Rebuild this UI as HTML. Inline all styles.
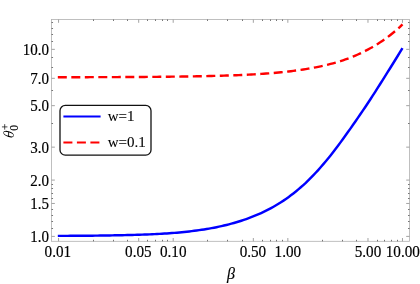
<!DOCTYPE html>
<html><head><meta charset="utf-8"><title>plot</title>
<style>
html,body{margin:0;padding:0;background:#fff;}
body{width:420px;height:284px;overflow:hidden;}
svg{display:block;will-change:transform;}
text{font-family:"Liberation Serif",serif;font-size:16.15px;fill:#000;stroke:#000;stroke-width:0.18px;}
</style></head><body>
<svg width="420" height="284" viewBox="0 0 420 284">
<rect x="0" y="0" width="420" height="284" fill="#fff"/>
<g stroke="#b0b0b0" stroke-width="0.8" fill="none">
<rect x="51.55" y="19.5" width="357.95" height="221.8"/>
</g><g stroke="#999" stroke-width="0.9" fill="none"><line x1="58.56" y1="241.3" x2="58.56" y2="238.0"/><line x1="58.56" y1="19.5" x2="58.56" y2="22.8"/><line x1="138.69" y1="241.3" x2="138.69" y2="238.0"/><line x1="138.69" y1="19.5" x2="138.69" y2="22.8"/><line x1="173.20" y1="241.3" x2="173.20" y2="238.0"/><line x1="173.20" y1="19.5" x2="173.20" y2="22.8"/><line x1="253.33" y1="241.3" x2="253.33" y2="238.0"/><line x1="253.33" y1="19.5" x2="253.33" y2="22.8"/><line x1="287.84" y1="241.3" x2="287.84" y2="238.0"/><line x1="287.84" y1="19.5" x2="287.84" y2="22.8"/><line x1="367.97" y1="241.3" x2="367.97" y2="238.0"/><line x1="367.97" y1="19.5" x2="367.97" y2="22.8"/><line x1="402.48" y1="241.3" x2="402.48" y2="238.0"/><line x1="402.48" y1="19.5" x2="402.48" y2="22.8"/><line x1="51.55" y1="236.40" x2="54.849999999999994" y2="236.40"/><line x1="409.5" y1="236.40" x2="406.2" y2="236.40"/><line x1="51.55" y1="203.46" x2="54.849999999999994" y2="203.46"/><line x1="409.5" y1="203.46" x2="406.2" y2="203.46"/><line x1="51.55" y1="180.09" x2="54.849999999999994" y2="180.09"/><line x1="409.5" y1="180.09" x2="406.2" y2="180.09"/><line x1="51.55" y1="147.15" x2="54.849999999999994" y2="147.15"/><line x1="409.5" y1="147.15" x2="406.2" y2="147.15"/><line x1="51.55" y1="105.66" x2="54.849999999999994" y2="105.66"/><line x1="409.5" y1="105.66" x2="406.2" y2="105.66"/><line x1="51.55" y1="78.32" x2="54.849999999999994" y2="78.32"/><line x1="409.5" y1="78.32" x2="406.2" y2="78.32"/><line x1="51.55" y1="49.35" x2="54.849999999999994" y2="49.35"/><line x1="409.5" y1="49.35" x2="406.2" y2="49.35"/></g><g stroke="#4a4a4a" stroke-width="0.75" fill="none"><line x1="93.50" y1="241.3" x2="93.50" y2="239.8"/><line x1="93.50" y1="19.5" x2="93.50" y2="21.0"/><line x1="113.50" y1="241.3" x2="113.50" y2="239.8"/><line x1="113.50" y1="19.5" x2="113.50" y2="21.0"/><line x1="127.50" y1="241.3" x2="127.50" y2="239.8"/><line x1="127.50" y1="19.5" x2="127.50" y2="21.0"/><line x1="147.50" y1="241.3" x2="147.50" y2="239.8"/><line x1="147.50" y1="19.5" x2="147.50" y2="21.0"/><line x1="155.50" y1="241.3" x2="155.50" y2="239.8"/><line x1="155.50" y1="19.5" x2="155.50" y2="21.0"/><line x1="162.50" y1="241.3" x2="162.50" y2="239.8"/><line x1="162.50" y1="19.5" x2="162.50" y2="21.0"/><line x1="167.50" y1="241.3" x2="167.50" y2="239.8"/><line x1="167.50" y1="19.5" x2="167.50" y2="21.0"/><line x1="207.50" y1="241.3" x2="207.50" y2="239.8"/><line x1="207.50" y1="19.5" x2="207.50" y2="21.0"/><line x1="227.50" y1="241.3" x2="227.50" y2="239.8"/><line x1="227.50" y1="19.5" x2="227.50" y2="21.0"/><line x1="242.50" y1="241.3" x2="242.50" y2="239.8"/><line x1="242.50" y1="19.5" x2="242.50" y2="21.0"/><line x1="262.50" y1="241.3" x2="262.50" y2="239.8"/><line x1="262.50" y1="19.5" x2="262.50" y2="21.0"/><line x1="270.50" y1="241.3" x2="270.50" y2="239.8"/><line x1="270.50" y1="19.5" x2="270.50" y2="21.0"/><line x1="276.50" y1="241.3" x2="276.50" y2="239.8"/><line x1="276.50" y1="19.5" x2="276.50" y2="21.0"/><line x1="282.50" y1="241.3" x2="282.50" y2="239.8"/><line x1="282.50" y1="19.5" x2="282.50" y2="21.0"/><line x1="322.50" y1="241.3" x2="322.50" y2="239.8"/><line x1="322.50" y1="19.5" x2="322.50" y2="21.0"/><line x1="342.50" y1="241.3" x2="342.50" y2="239.8"/><line x1="342.50" y1="19.5" x2="342.50" y2="21.0"/><line x1="356.50" y1="241.3" x2="356.50" y2="239.8"/><line x1="356.50" y1="19.5" x2="356.50" y2="21.0"/><line x1="377.50" y1="241.3" x2="377.50" y2="239.8"/><line x1="377.50" y1="19.5" x2="377.50" y2="21.0"/><line x1="384.50" y1="241.3" x2="384.50" y2="239.8"/><line x1="384.50" y1="19.5" x2="384.50" y2="21.0"/><line x1="391.50" y1="241.3" x2="391.50" y2="239.8"/><line x1="391.50" y1="19.5" x2="391.50" y2="21.0"/><line x1="397.50" y1="241.3" x2="397.50" y2="239.8"/><line x1="397.50" y1="19.5" x2="397.50" y2="21.0"/><line x1="51.55" y1="228.50" x2="53.05" y2="228.50"/><line x1="409.5" y1="228.50" x2="408.0" y2="228.50"/><line x1="51.55" y1="221.50" x2="53.05" y2="221.50"/><line x1="409.5" y1="221.50" x2="408.0" y2="221.50"/><line x1="51.55" y1="215.50" x2="53.05" y2="215.50"/><line x1="409.5" y1="215.50" x2="408.0" y2="215.50"/><line x1="51.55" y1="209.50" x2="53.05" y2="209.50"/><line x1="409.5" y1="209.50" x2="408.0" y2="209.50"/><line x1="51.55" y1="198.50" x2="53.05" y2="198.50"/><line x1="409.5" y1="198.50" x2="408.0" y2="198.50"/><line x1="51.55" y1="193.50" x2="53.05" y2="193.50"/><line x1="409.5" y1="193.50" x2="408.0" y2="193.50"/><line x1="51.55" y1="188.50" x2="53.05" y2="188.50"/><line x1="409.5" y1="188.50" x2="408.0" y2="188.50"/><line x1="51.55" y1="184.50" x2="53.05" y2="184.50"/><line x1="409.5" y1="184.50" x2="408.0" y2="184.50"/><line x1="51.55" y1="123.50" x2="53.05" y2="123.50"/><line x1="409.5" y1="123.50" x2="408.0" y2="123.50"/><line x1="51.55" y1="90.50" x2="53.05" y2="90.50"/><line x1="409.5" y1="90.50" x2="408.0" y2="90.50"/><line x1="51.55" y1="67.50" x2="53.05" y2="67.50"/><line x1="409.5" y1="67.50" x2="408.0" y2="67.50"/><line x1="51.55" y1="57.50" x2="53.05" y2="57.50"/><line x1="409.5" y1="57.50" x2="408.0" y2="57.50"/><line x1="51.55" y1="41.50" x2="53.05" y2="41.50"/><line x1="409.5" y1="41.50" x2="408.0" y2="41.50"/><line x1="51.55" y1="34.50" x2="53.05" y2="34.50"/><line x1="409.5" y1="34.50" x2="408.0" y2="34.50"/><line x1="51.55" y1="28.50" x2="53.05" y2="28.50"/><line x1="409.5" y1="28.50" x2="408.0" y2="28.50"/><line x1="51.55" y1="22.50" x2="53.05" y2="22.50"/><line x1="409.5" y1="22.50" x2="408.0" y2="22.50"/></g>
<path d="M57.81,235.90 L60.29,235.89 L62.77,235.88 L65.25,235.87 L67.73,235.86 L70.21,235.84 L72.69,235.83 L75.17,235.81 L77.65,235.79 L80.13,235.78 L82.61,235.76 L85.09,235.73 L87.57,235.71 L90.05,235.69 L92.53,235.66 L95.01,235.63 L97.49,235.60 L99.97,235.57 L102.45,235.54 L104.93,235.50 L107.41,235.46 L109.89,235.42 L112.37,235.38 L114.85,235.34 L117.33,235.30 L119.80,235.25 L122.28,235.20 L124.76,235.14 L127.24,235.09 L129.72,235.03 L132.20,234.96 L134.68,234.89 L137.16,234.81 L139.64,234.73 L142.12,234.65 L144.60,234.56 L147.08,234.46 L149.56,234.36 L152.04,234.25 L154.52,234.13 L157.00,234.01 L159.48,233.88 L161.96,233.74 L164.44,233.59 L166.92,233.43 L169.40,233.26 L171.88,233.08 L174.36,232.88 L176.84,232.67 L179.32,232.44 L181.80,232.21 L184.27,231.96 L186.75,231.70 L189.23,231.42 L191.71,231.13 L194.19,230.82 L196.67,230.50 L199.15,230.16 L201.63,229.80 L204.11,229.42 L206.59,229.02 L209.07,228.59 L211.55,228.15 L214.03,227.68 L216.51,227.19 L218.99,226.67 L221.47,226.13 L223.95,225.56 L226.43,224.97 L228.91,224.34 L231.39,223.68 L233.87,222.99 L236.35,222.27 L238.83,221.52 L241.31,220.73 L243.79,219.91 L246.26,219.05 L248.74,218.15 L251.22,217.21 L253.70,216.23 L256.18,215.21 L258.66,214.14 L261.14,213.03 L263.62,211.87 L266.10,210.66 L268.58,209.40 L271.06,208.09 L273.54,206.72 L276.02,205.29 L278.50,203.80 L280.98,202.24 L283.46,200.63 L285.94,198.94 L288.42,197.18 L290.90,195.36 L293.38,193.46 L295.86,191.48 L298.34,189.43 L300.82,187.30 L303.30,185.10 L305.78,182.81 L308.25,180.42 L310.73,177.95 L313.21,175.40 L315.69,172.76 L318.17,170.05 L320.65,167.26 L323.13,164.40 L325.61,161.48 L328.09,158.49 L330.57,155.43 L333.05,152.24 L335.53,148.99 L338.01,145.70 L340.49,142.36 L342.97,138.97 L345.45,135.53 L347.93,132.09 L350.41,128.59 L352.89,125.05 L355.37,121.47 L357.85,117.86 L360.33,114.27 L362.81,110.63 L365.29,106.95 L367.77,103.23 L370.25,99.46 L372.72,95.66 L375.20,91.81 L377.68,87.93 L380.16,84.02 L382.64,80.07 L385.12,76.15 L387.60,72.22 L390.08,68.26 L392.56,64.27 L395.04,60.25 L397.52,56.25 L400.00,52.23 L402.48,48.18" fill="none" stroke="#0000ff" stroke-width="2.45" stroke-linejoin="round"/>
<path d="M57.81,77.23 L60.29,77.22 L62.77,77.22 L65.25,77.22 L67.73,77.21 L70.21,77.21 L72.69,77.21 L75.17,77.20 L77.65,77.20 L80.13,77.19 L82.61,77.19 L85.09,77.18 L87.57,77.18 L90.05,77.17 L92.53,77.16 L95.01,77.16 L97.49,77.15 L99.97,77.14 L102.45,77.14 L104.93,77.13 L107.41,77.12 L109.89,77.11 L112.37,77.10 L114.85,77.09 L117.33,77.08 L119.80,77.07 L122.28,77.06 L124.76,77.05 L127.24,77.04 L129.72,77.02 L132.20,77.01 L134.68,77.00 L137.16,76.98 L139.64,76.97 L142.12,76.95 L144.60,76.93 L147.08,76.91 L149.56,76.89 L152.04,76.87 L154.52,76.85 L157.00,76.83 L159.48,76.81 L161.96,76.78 L164.44,76.76 L166.92,76.73 L169.40,76.70 L171.88,76.67 L174.36,76.64 L176.84,76.61 L179.32,76.58 L181.80,76.54 L184.27,76.50 L186.75,76.46 L189.23,76.42 L191.71,76.38 L194.19,76.33 L196.67,76.28 L199.15,76.23 L201.63,76.18 L204.11,76.14 L206.59,76.09 L209.07,76.04 L211.55,75.98 L214.03,75.92 L216.51,75.86 L218.99,75.79 L221.47,75.73 L223.95,75.65 L226.43,75.57 L228.91,75.49 L231.39,75.41 L233.87,75.32 L236.35,75.22 L238.83,75.12 L241.31,75.01 L243.79,74.90 L246.26,74.78 L248.74,74.66 L251.22,74.52 L253.70,74.38 L256.18,74.24 L258.66,74.08 L261.14,73.92 L263.62,73.75 L266.10,73.57 L268.58,73.39 L271.06,73.19 L273.54,72.98 L276.02,72.76 L278.50,72.53 L280.98,72.29 L283.46,72.03 L285.94,71.77 L288.42,71.49 L290.90,71.19 L293.38,70.88 L295.86,70.56 L298.34,70.21 L300.82,69.86 L303.30,69.49 L305.78,69.10 L308.25,68.69 L310.73,68.26 L313.21,67.81 L315.69,67.34 L318.17,66.84 L320.65,66.32 L323.13,65.77 L325.61,65.19 L328.09,64.59 L330.57,63.96 L333.05,63.29 L335.53,62.60 L338.01,61.87 L340.49,61.10 L342.97,60.28 L345.45,59.42 L347.93,58.52 L350.41,57.58 L352.89,56.59 L355.37,55.56 L357.85,54.49 L360.33,53.36 L362.81,52.18 L365.29,50.95 L367.77,49.67 L370.25,48.32 L372.72,46.92 L375.20,45.45 L377.68,43.92 L380.16,42.33 L382.64,40.66 L385.12,38.92 L387.60,37.11 L390.08,35.22 L392.56,33.25 L395.04,31.20 L397.52,29.06 L400.00,26.84 L402.48,24.36" fill="none" stroke="#ff0000" stroke-width="2.4" stroke-dasharray="9 4.5" stroke-linejoin="round"/>
<g><text transform="translate(57.86,257.1) scale(0.94,1)" text-anchor="middle">0.01</text><text transform="translate(138.39,257.1) scale(0.94,1)" text-anchor="middle">0.05</text><text transform="translate(173.20,257.1) scale(0.94,1)" text-anchor="middle">0.10</text><text transform="translate(252.93,257.1) scale(0.94,1)" text-anchor="middle">0.50</text><text transform="translate(287.84,257.1) scale(0.94,1)" text-anchor="middle">1.00</text><text transform="translate(367.97,257.1) scale(0.94,1)" text-anchor="middle">5.00</text><text transform="translate(402.78,257.1) scale(0.94,1)" text-anchor="middle">10.00</text></g>
<g><text transform="translate(49.1,242.00) scale(0.93,1)" text-anchor="end">1.0</text><text transform="translate(49.1,209.06) scale(0.93,1)" text-anchor="end">1.5</text><text transform="translate(49.1,185.69) scale(0.93,1)" text-anchor="end">2.0</text><text transform="translate(49.1,152.75) scale(0.93,1)" text-anchor="end">3.0</text><text transform="translate(49.1,111.26) scale(0.93,1)" text-anchor="end">5.0</text><text transform="translate(49.1,83.92) scale(0.93,1)" text-anchor="end">7.0</text><text transform="translate(49.1,54.95) scale(0.93,1)" text-anchor="end">10.0</text></g>
<text x="226.9" y="279.4" style="font-style:italic;font-size:16px;stroke-width:0.15px">β</text>
<g transform="translate(8.6,134.1) rotate(-90) skewX(-16)">
<path fill="#000" fill-rule="evenodd" d="M-2.95,0 A2.95,5.25 0 1 0 2.95,0 A2.95,5.25 0 1 0 -2.95,0 Z M-1.75,0 A1.75,4.75 0 1 1 1.75,0 A1.75,4.75 0 1 1 -1.75,0 Z"/>
<line x1="-2.3" y1="0" x2="2.3" y2="0" stroke="#000" stroke-width="0.8"/>
</g>
<g transform="translate(17.8,127.75) rotate(-90)"><text x="0" y="0" text-anchor="middle" style="font-size:11.5px;stroke-width:0.15px">0</text></g>
<path d="M1.95,126.9 H7.45 M4.7,124.15 V129.65" stroke="#111" stroke-width="0.75" fill="none"/>
<rect x="60" y="105.45" width="91.0" height="49.75" rx="5.3" ry="5.3" fill="#fff" stroke="#111" stroke-width="1.3"/>
<line x1="63.4" y1="116.4" x2="100.6" y2="116.4" stroke="#0000ff" stroke-width="2"/>
<line x1="63.4" y1="142.4" x2="100.6" y2="142.4" stroke="#ff0000" stroke-width="2" stroke-dasharray="9 4.5"/>
<text x="107.7" y="120.8" style="stroke-width:0.1px;font-size:15px">w=1</text>
<text x="107.7" y="146.5" style="stroke-width:0.1px;font-size:15px">w=0.1</text>
</svg>
</body></html>
